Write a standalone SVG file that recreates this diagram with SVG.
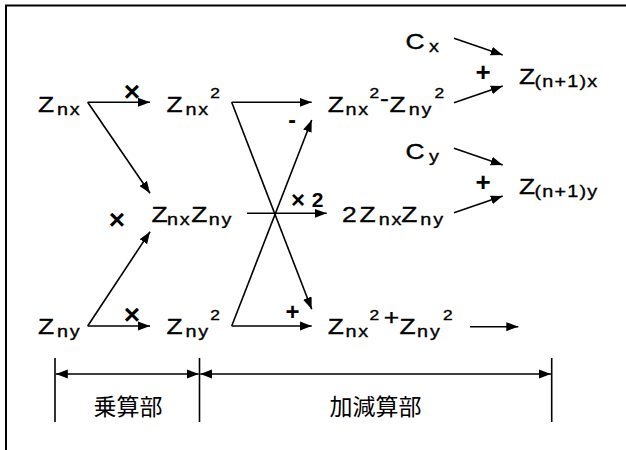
<svg xmlns="http://www.w3.org/2000/svg" width="626" height="450" viewBox="0 0 626 450">
<style>
.t{font-family:"Liberation Sans",Arial,sans-serif;font-size:22px;fill:#000;stroke:#000;stroke-width:0.35}
.sub{font-size:16.5px;letter-spacing:1.5px}
.sub2{font-size:16.5px;letter-spacing:1px}
.sup{font-size:14.5px}
.b{font-family:"Liberation Sans",Arial,sans-serif;font-weight:bold;fill:#000;text-anchor:middle}
.j{font-family:"Noto Sans CJK JP","Noto Sans CJK SC",sans-serif;font-size:23px;fill:#000;text-anchor:middle}
.ln{stroke:#000;stroke-width:1.6;fill:none}
.ar{marker-end:url(#ah)}
.dm{marker-start:url(#ah);marker-end:url(#ah)}
</style>
<defs>
<marker id="ah" markerUnits="userSpaceOnUse" markerWidth="12" markerHeight="10" refX="12" refY="5" orient="auto-start-reverse">
<path d="M0,0.5 L12,5 L0,9.5 z" fill="#000"/>
</marker>
</defs>
<rect width="626" height="450" fill="#fff"/>
<path d="M6,450 V5.5 H626" stroke="#000" stroke-width="2" fill="none"/>

<g id="connectors">
<line class="ln ar" x1="87.7" y1="102.3" x2="150" y2="102.3"/>
<line class="ln ar" x1="87.7" y1="102.3" x2="150" y2="193.3"/>
<line class="ln ar" x1="87.7" y1="326" x2="150" y2="231.7"/>
<line class="ln ar" x1="87.7" y1="326" x2="150" y2="326"/>
<line class="ln ar" x1="231.7" y1="102.3" x2="311.7" y2="102.3"/>
<line class="ln ar" x1="231.7" y1="102.3" x2="311.7" y2="309.3"/>
<line class="ln ar" x1="231.7" y1="326" x2="311.7" y2="120"/>
<line class="ln ar" x1="231.7" y1="326" x2="311.7" y2="326"/>
<line class="ln ar" x1="247" y1="213.3" x2="326.7" y2="213.3"/>
<line class="ln ar" x1="454" y1="38.3" x2="502.7" y2="55"/>
<line class="ln ar" x1="454" y1="102.7" x2="502.7" y2="86"/>
<line class="ln ar" x1="454" y1="148.3" x2="502.7" y2="165"/>
<line class="ln ar" x1="454" y1="212.7" x2="502.7" y2="196"/>
<line class="ln ar" x1="470" y1="326.7" x2="518.3" y2="326.7"/>
<line class="ln" x1="55" y1="358" x2="55" y2="422"/>
<line class="ln" x1="199.5" y1="358" x2="199.5" y2="422"/>
<line class="ln" x1="551.7" y1="358" x2="551.7" y2="422"/>
<line class="ln dm" x1="55.8" y1="374" x2="198.7" y2="374"/>
<line class="ln dm" x1="200.3" y1="374" x2="550.9" y2="374"/>
</g>

<g id="ops">
<text class="b" x="132" y="101" font-size="28">×</text>
<text class="b" x="117" y="229" font-size="28">×</text>
<text class="b" x="132" y="324" font-size="28">×</text>
<text class="b" y="206.7" font-size="21"><tspan x="298" font-size="24" y="208">×</tspan><tspan x="317.5" y="206.7">2</tspan></text>
<text class="b" x="292" y="128.3" font-size="23">-</text>
<text class="b" x="292.5" y="320" font-size="24">+</text>
<text class="b" x="483" y="81" font-size="26">+</text>
<text class="b" x="483" y="191" font-size="26">+</text>
</g>

<g id="n-zx"><text class="t" transform="translate(38 112) scale(1.2 1)"><tspan x="0" y="0">Z</tspan><tspan class="sub" x="15.8" y="3">nx</tspan></text></g>
<g id="n-zy"><text class="t" transform="translate(38 334) scale(1.2 1)"><tspan x="0" y="0">Z</tspan><tspan class="sub" x="15.8" y="3">ny</tspan></text></g>
<g id="n-zx2"><text class="t" transform="translate(166.5 112) scale(1.2 1)"><tspan x="0" y="0">Z</tspan><tspan class="sub" x="15.8" y="3">nx</tspan><tspan class="sup" x="36.5" y="-14">2</tspan></text></g>
<g id="n-zy2"><text class="t" transform="translate(166.5 334) scale(1.2 1)"><tspan x="0" y="0">Z</tspan><tspan class="sub" x="15.8" y="3">ny</tspan><tspan class="sup" x="36.5" y="-14">2</tspan></text></g>
<g id="n-zxzy"><text class="t" transform="translate(151.5 222) scale(1.2 1)"><tspan x="0" y="0">Z</tspan><tspan class="sub" x="12.9" y="3">nx</tspan><tspan x="33.1" y="0">Z</tspan><tspan class="sub" x="47.7" y="3">ny</tspan></text></g>
<g id="n-diff"><text class="t" transform="translate(327.8 112) scale(1.2 1)"><tspan x="0" y="0">Z</tspan><tspan class="sub" x="14.7" y="3">nx</tspan><tspan class="sup" x="34.8" y="-14">2</tspan><tspan x="43.5" y="-6.3">-</tspan><tspan x="51.5" y="0">Z</tspan><tspan class="sub" x="67.4" y="3">ny</tspan><tspan class="sup" x="89" y="-14">2</tspan></text></g>
<g id="n-2zxzy"><text class="t" transform="translate(342 222) scale(1.2 1)"><tspan x="0" y="0">2</tspan><tspan x="14.6" y="0">Z</tspan><tspan class="sub" x="30.6" y="3">nx</tspan><tspan x="49.4" y="0">Z</tspan><tspan class="sub" x="65.3" y="3">ny</tspan></text></g>
<g id="n-sum"><text class="t" transform="translate(327.8 334) scale(1.2 1)"><tspan x="0" y="0">Z</tspan><tspan class="sub" x="14.7" y="3">nx</tspan><tspan class="sup" x="34.8" y="-14">2</tspan><tspan x="46.6" y="-9.5">+</tspan><tspan x="59.8" y="0">Z</tspan><tspan class="sub" x="74.4" y="3">ny</tspan><tspan class="sup" x="96" y="-14">2</tspan></text></g>
<g id="n-cx"><text class="t" transform="translate(405.4 49.3) scale(1.2 1)"><tspan x="0" y="0">C</tspan><tspan class="sub" x="19.7" y="2.7">x</tspan></text></g>
<g id="n-cy"><text class="t" transform="translate(405.4 159.3) scale(1.2 1)"><tspan x="0" y="0">C</tspan><tspan class="sub" x="19.7" y="2.7">y</tspan></text></g>
<g id="n-zn1x"><text class="t" transform="translate(519 84) scale(1.2 1)"><tspan x="0" y="0">Z</tspan><tspan class="sub2" x="13" y="3">(n+1)x</tspan></text></g>
<g id="n-zn1y"><text class="t" transform="translate(519 194) scale(1.2 1)"><tspan x="0" y="0">Z</tspan><tspan class="sub2" x="13" y="3">(n+1)y</tspan></text></g>
<g id="lbl-mul"><text class="j" x="128" y="415">乗算部</text></g>
<g id="lbl-add"><text class="j" x="375.5" y="415">加減算部</text></g>
</svg>
